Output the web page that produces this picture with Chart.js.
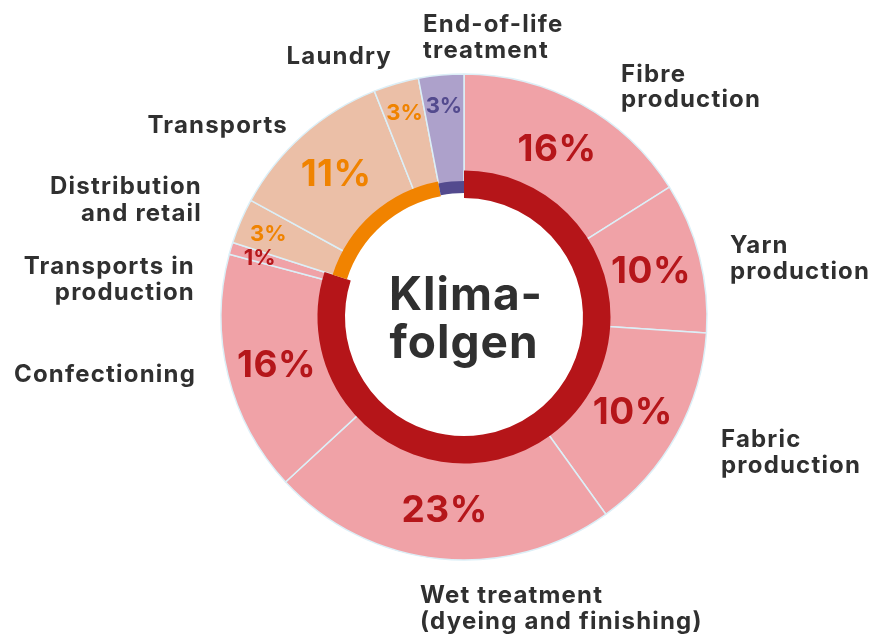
<!DOCTYPE html>
<html>
<head>
<meta charset="utf-8">
<script src="https://cdn.jsdelivr.net/npm/chart.js@4.4.0/dist/chart.umd.min.js"></script>
<style>
  html, body { margin: 0; padding: 0; background: #fff; }
  #wrap { width: 875px; height: 637px; }
</style>
</head>
<body>
<div id="wrap"><canvas id="chart"></canvas></div>
<script>
// --- DATA ---
const categories = [
  'Fibre\nproduction', 'Yarn\nproduction', 'Fabric\nproduction',
  'Wet treatment\n(dyeing and finishing)', 'Confectioning', 'Transports in\nproduction',
  'Distribution\nand retail', 'Transports', 'Laundry', 'End-of-life\ntreatment'
];
// slice sizes as drawn (angles)
const shares = [16, 10, 14, 23, 16, 0.8, 3, 11, 3, 3];
// printed percentages
const shareLabels = ['16%', '10%', '10%', '23%', '16%', '1%', '3%', '11%', '3%', '3%'];
const stages = ['production', 'production', 'production', 'production', 'production', 'production',
  'use', 'use', 'use', 'eol'];
const stageNames = ['production', 'use', 'eol'];
const centerLines = ['Klima-', 'folgen'];

// --- STYLE ---
const stageFill = { production: '#F0A2A7', use: '#EBBFA7', eol: '#ADA1CB' };
const stageRing = { production: '#B51519', use: '#F18300', eol: '#534A8E' };
const stageText = { production: '#B5161A', use: '#F08300', eol: '#534A8E' };
const lineColor = '#DCEFF7';
const textColor = '#303030';
const FONT = 'Inter, "Open Sans", sans-serif';

// label anchors, relative to the chart centre
const labelPos = [
  { align: 'left',  dx: 157,  dy: [-235, -210] },
  { align: 'left',  dx: 266,  dy: [-64, -38] },
  { align: 'left',  dx: 257,  dy: [130, 156] },
  { align: 'left',  dx: -44,  dy: [286, 312] },
  { align: 'right', dx: -268, dy: [65] },
  { align: 'right', dx: -269, dy: [-43, -17] },
  { align: 'right', dx: -262, dy: [-123, -96] },
  { align: 'right', dx: -176, dy: [-184] },
  { align: 'right', dx: -72,  dy: [-253] },
  { align: 'left',  dx: -41,  dy: [-285, -259] }
];

const stageTotals = stageNames.map(s =>
  shares.reduce((sum, v, i) => sum + (stages[i] === s ? v : 0), 0));

// each ring gets its own radius/cutout so the rings can sit where the picture has them
const ringWeights = [8, 2, 1, 1];
function ring(i, outer, inner) {
  const total = ringWeights.reduce((a, b) => a + b, 0);
  const offset = ringWeights.slice(0, i).reduce((a, b) => a + b, 0);
  const unit = (outer - inner) / ringWeights[i];
  const radius = outer + unit * offset;
  return { weight: ringWeights[i], radius, cutout: ((1 - unit * total / radius) * 100) + '%' };
}
function stageColors(only) {
  return stageNames.map(s => s === only ? stageRing[s] : 'rgba(0,0,0,0)');
}

const textLayer = {
  id: 'textLayer',
  afterDatasetsDraw(chart) {
    const ctx = chart.ctx;
    const arcs = chart.getDatasetMeta(0).data;
    const cx = arcs[0].x, cy = arcs[0].y;
    ctx.save();
    ctx.textBaseline = 'alphabetic';

    // percentages inside the slices
    ctx.textAlign = 'center';
    arcs.forEach((arc, i) => {
      const big = shares[i] >= 10;
      const size = big ? 37 : 22;
      const r = big ? 193 : 213;
      const mid = (arc.startAngle + arc.endAngle) / 2;
      ctx.font = `700 ${size}px ${FONT}`;
      ctx.letterSpacing = big ? '0.5px' : '0px';
      ctx.fillStyle = stageText[stages[i]];
      ctx.fillText(shareLabels[i], cx + Math.cos(mid) * r, cy + Math.sin(mid) * r + size * 0.36);
    });

    // category names
    ctx.font = `700 24px ${FONT}`;
    ctx.letterSpacing = '1.2px';
    ctx.fillStyle = textColor;
    categories.forEach((name, i) => {
      const p = labelPos[i];
      ctx.textAlign = p.align;
      name.split('\n').forEach((line, j) => ctx.fillText(line, cx + p.dx, cy + p.dy[j]));
    });

    // centre title
    ctx.font = `700 46px ${FONT}`;
    ctx.letterSpacing = '1px';
    ctx.textAlign = 'center';
    ctx.fillText(centerLines[0], cx + 2, cy - 7);
    ctx.fillText(centerLines[1], cx, cy + 41);
    ctx.restore();
  }
};

new Chart(document.getElementById('chart'), {
  type: 'doughnut',
  data: {
    labels: categories,
    datasets: [
      { data: shares, backgroundColor: stages.map(s => stageFill[s]), borderColor: lineColor,
        borderWidth: 1.5, order: 3, ...ring(0, 243, 125) },
      { data: stageTotals, backgroundColor: stageColors('production'), borderWidth: 0, order: 2, ...ring(1, 146.5, 119) },
      { data: stageTotals, backgroundColor: stageColors('use'), borderWidth: 0, order: 1, ...ring(2, 138, 123) },
      { data: stageTotals, backgroundColor: stageColors('eol'), borderWidth: 0, order: 0, ...ring(3, 136, 124) }
    ]
  },
  options: {
    responsive: true, maintainAspectRatio: false, animation: false,
    layout: { padding: { left: 53, bottom: 3 } },
    plugins: { legend: { display: false }, tooltip: { enabled: false } }
  },
  plugins: [textLayer]
});
</script>
</body>
</html>
